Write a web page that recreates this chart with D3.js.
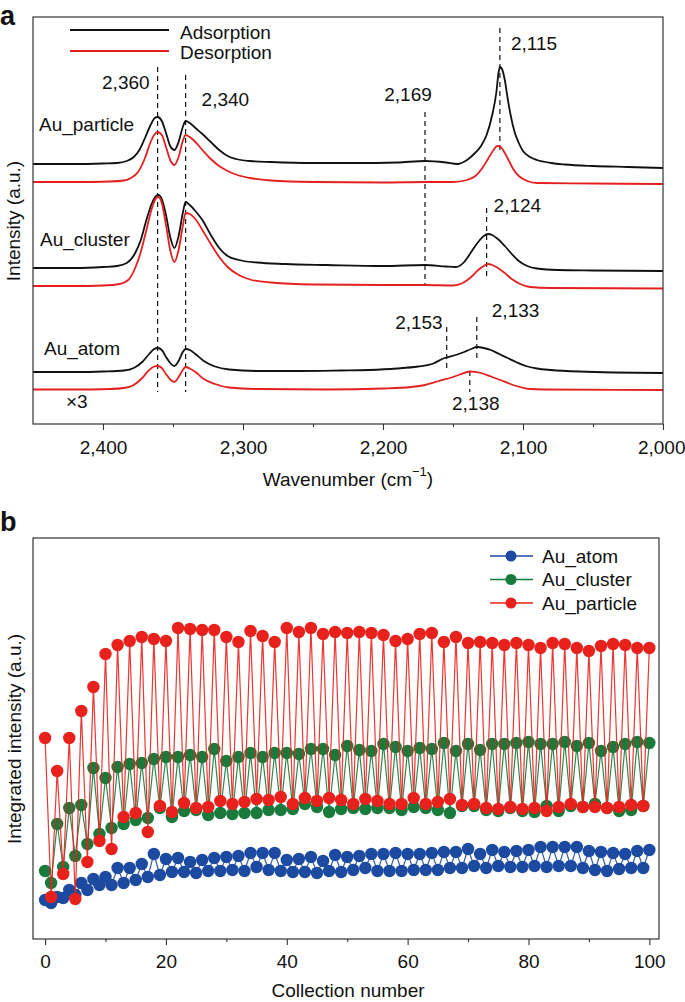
<!DOCTYPE html>
<html><head><meta charset="utf-8">
<script src="https://cdn.jsdelivr.net/npm/d3@7"></script>
<style>
body{margin:0;background:#fff}
text{font-family:"Liberation Sans",Arial,Helvetica,sans-serif;fill:#111}
</style>
</head><body>
<svg id="c" width="685" height="1002"></svg>
<script>
// ---------------- DATA ----------------
// Panel a: IR spectra [wavenumber (cm-1), intensity (a.u., offset)]
const particleAds = [[2450,260],[2420,260],[2400,260.5],[2390,261],[2383,263],[2378,267],[2374,274],[2370,286],[2366,299],[2363,306],[2361,307],[2358,303],[2355,291],[2352,278],[2349,274],[2346,282],[2343,297],[2341,303],[2338,301],[2334,296],[2329,290],[2323,282],[2317,274],[2311,268],[2305,265],[2295,263],[2280,262],[2250,261],[2220,261],[2190,261.5],[2170,263],[2155,261.5],[2147,260],[2140,264],[2135,270],[2130,278],[2126,289],[2122,309],[2119,332],[2117.5,351],[2116.5,357],[2115,355],[2113,344],[2111,326],[2109,310],[2106,292],[2103,281],[2100,273],[2095,267],[2090,264],[2080,261],[2070,259.5],[2050,258],[2025,257],[2000,256]];
const particleDes = [[2450,242],[2420,242],[2395,242.5],[2385,243.5],[2380,246],[2375,252],[2370,266],[2366,282],[2363,290],[2361,292],[2358,289],[2355,277],[2352,264],[2349,259],[2346,267],[2343,283],[2341,289],[2338,287],[2334,282],[2329,274],[2323,265],[2317,258],[2311,253],[2303,248.5],[2295,246],[2280,243.5],[2250,242],[2200,241.5],[2170,242],[2150,242],[2140,244],[2134,248],[2129,256],[2125,265],[2121,274],[2118.5,278],[2116,277],[2113,271],[2110,263],[2107,255],[2103,248],[2097,243],[2090,241],[2050,240.5],[2000,240]];
const clusterAds = [[2450,156],[2420,156],[2400,157],[2390,158],[2383,161],[2377,171],[2373,184],[2369,204],[2365,221],[2362,228],[2360.5,229],[2358,225],[2355,209],[2352,187],[2349,176],[2346,188],[2343,211],[2341,222],[2338,219],[2334,213],[2329,204],[2323,189],[2317,176],[2311,168],[2303,164],[2290,161.5],[2270,160],[2240,159],[2200,158],[2170,159],[2155,157.5],[2148,157],[2142,162],[2137,172],[2132,182],[2128,188],[2125,190],[2122,189],[2118,185],[2113,178],[2108,170],[2103,163],[2097,158],[2090,155.5],[2075,154],[2050,153.5],[2000,153]];
const clusterDes = [[2450,138],[2420,138],[2400,138.5],[2388,140],[2382,144],[2377,156],[2373,172],[2369,194],[2365,216],[2362,226],[2360.5,227],[2358,221],[2355,199],[2352,174],[2349,162],[2346,174],[2343,198],[2341,211],[2338,210],[2334,205],[2329,194],[2323,180],[2317,167],[2311,157],[2303,149],[2295,144.5],[2280,141.5],[2250,139.5],[2200,139],[2170,139],[2150,138.5],[2143,141],[2137,147],[2132,154],[2128,158],[2125,160],[2122,159],[2118,156],[2113,151],[2108,145],[2102,140],[2095,137],[2080,136],[2000,135.5]];
const atomAds = [[2450,52],[2420,52],[2400,52.5],[2385,53.5],[2378,56],[2372,62],[2367,70],[2363.5,75],[2361,76],[2358,74],[2355,67],[2352,61],[2349,58],[2346,63],[2343,72],[2341,75],[2338,74],[2334,70],[2328,63],[2320,57.5],[2310,54.5],[2290,53],[2260,53],[2230,53.5],[2210,54],[2190,55.5],[2175,57.5],[2165,60],[2156,66],[2148,69],[2142,72],[2137,75],[2133,77],[2128,76],[2123,74],[2117,70],[2111,66],[2105,62],[2098,58],[2090,55.5],[2080,54],[2060,52.5],[2000,51]];
const atomDes = [[2450,34.5],[2420,34.5],[2395,35],[2385,36],[2378,39],[2372,46],[2367,54],[2363.5,57.5],[2361,58],[2358,56],[2355,50],[2352,44.5],[2349,42],[2346,47],[2343,54],[2341,57],[2338,55.5],[2334,52],[2328,45],[2320,40],[2310,36.5],[2290,35],[2240,34.5],[2200,35.5],[2180,37],[2170,39],[2160,43],[2150,47],[2145,49.5],[2138,52.5],[2130,51],[2122,47],[2116,44],[2110,40.5],[2102,37],[2095,35],[2085,34.5],[2000,34]];

// Panel a: peak marker lines
const peakLabels    = ["2,360","2,340","2,169","2,115","2,124","2,153","2,133","2,138"];
const peakWavenum   = [2361, 2341, 2170, 2116.5, 2126, 2154.5, 2133, 2138];
const peakTop       = [357, 349, 312, 396, 216, 97, 107, 53];
const peakBottom    = [32, 32, 139, 272, 147, 55, 66, 32];

const wavenumberMajor = [2400, 2300, 2200, 2100, 2000];
const wavenumberMinor = [2350, 2250, 2150, 2050];
const spectraLegend = ["Adsorption", "Desorption"];
const sampleNames = ["Au_particle", "Au_cluster", "Au_atom"];

// Panel b: integrated intensity vs collection number (0..100)
const collection = d3.range(0, 101);
const auAtom = [39,36,42,41,49,44,56,49,60,54,62,54,71,56,71,59,75,62,85,64,80,67,81,67,77,66,79,68,81,68,82,69,83,68,86,72,86,69,86,68,79,67,80,67,82,66,78,68,84,67,82,69,83,71,85,68,85,68,86,68,85,69,85,69,86,69,87,71,87,71,90,73,85,71,89,73,87,72,88,72,89,73,92,72,92,73,92,73,92,71,88,69,87,68,86,70,85,71,88,71,89];
const auCluster = [68,56,115,72,131,83,134,95,171,105,161,111,172,115,175,119,176,121,180,131,182,122,182,128,184,129,182,124,190,126,178,125,182,126,186,126,182,129,186,129,186,130,185,135,190,132,190,127,184,130,193,131,189,130,188,131,195,131,192,129,188,132,191,131,190,129,196,126,188,133,195,133,189,129,195,128,195,131,196,128,197,127,195,133,195,128,197,133,193,132,196,135,188,131,192,128,195,129,197,133,196];
const auParticle = [201,42,168,65,201,40,228,77,252,98,285,90,294,122,298,126,302,107,300,133,298,127,311,136,310,131,309,132,309,138,302,135,297,137,308,140,303,139,297,142,311,135,307,141,311,138,305,141,307,139,306,135,307,140,306,138,304,135,298,135,300,141,305,135,306,137,297,140,302,134,296,135,297,131,296,130,294,132,296,130,294,131,291,128,296,132,295,135,291,132,288,132,293,131,295,132,294,134,291,133,291];
const seriesNames = ["Au_atom", "Au_cluster", "Au_particle"];
const collectionMajor = [0, 20, 40, 60, 80, 100];
const collectionMinor = [10, 30, 50, 70, 90];

// ---------------- DRAW ----------------
const svg = d3.select("#c");
const FS = 19;
const RED = "#e41f1f", BLACK = "#111";
const dark = "#333";

// ===== Panel a =====
const xa = d3.scaleLinear().domain([2450, 2000]).range([33, 663]);
const ya = d3.scaleLinear().domain([0, 407]).range([424, 17]);

const gA = svg.append("g");
const axA = gA.append("g").attr("transform", "translate(0,424)")
  .call(d3.axisBottom(xa).tickValues(wavenumberMajor).tickSize(6).tickPadding(11).tickFormat(d3.format(",")));
const axAm = gA.append("g").attr("transform", "translate(0,424)")
  .call(d3.axisBottom(xa).tickValues(wavenumberMinor).tickSize(3).tickFormat(""));
[axA, axAm].forEach(a => {
  a.select(".domain").remove();
  a.selectAll("line").attr("stroke", dark).attr("stroke-width", 1.1);
  a.selectAll("text").attr("font-size", FS).attr("fill", "#111")
   .style("font-family", '"Liberation Sans",Arial,sans-serif');
});
// keep the last label inside the page, as in the reference
axA.selectAll(".tick text").filter(d => d === 2000).attr("text-anchor", "end").attr("x", 22);

// peak lines
peakLabels.forEach((lab, i) => {
  gA.append("line")
    .attr("x1", xa(peakWavenum[i])).attr("x2", xa(peakWavenum[i]))
    .attr("y1", ya(peakTop[i])).attr("y2", ya(peakBottom[i]))
    .attr("stroke", "#111").attr("stroke-width", 1.2).attr("stroke-dasharray", "5,4");
});

// spectra
const line = d3.line().x(d => xa(d[0])).y(d => ya(d[1])).curve(d3.curveMonotoneX);
const spectra = [
  [particleAds, BLACK], [particleDes, RED],
  [clusterAds, BLACK], [clusterDes, RED],
  [atomAds, BLACK], [atomDes, RED]
];
spectra.forEach(([d, c]) => {
  gA.append("path").datum(d).attr("d", line)
    .attr("fill", "none").attr("stroke", c).attr("stroke-width", 1.8).attr("stroke-linejoin", "round");
});

// peak labels layout: [dx, dy, anchor, fromBottom]
const labLayout = [
  [-8, 15, "end", false], [16, 24, "start", false], [-17, -18, "middle", false],
  [11, 15, "start", false], [7, -3, "start", false], [-4, -5, "end", false],
  [15, -7, "start", false], [6, 11, "middle", true]
];
peakLabels.forEach((lab, i) => {
  const L = labLayout[i];
  const yy = L[3] ? ya(peakBottom[i]) : ya(peakTop[i]);
  gA.append("text").attr("x", xa(peakWavenum[i]) + L[0]).attr("y", yy + L[1])
    .attr("dy", "0.35em").attr("text-anchor", L[2]).attr("font-size", FS).text(lab);
});

// sample names
const sampleLayout = [[39, 124], [40, 239], [44, 348]];
sampleNames.forEach((s, i) => {
  gA.append("text").attr("x", sampleLayout[i][0]).attr("y", sampleLayout[i][1])
    .attr("dy", "0.35em").attr("font-size", FS).text(s);
});
gA.append("text").attr("x", 66).attr("y", 401).attr("dy", "0.35em").attr("font-size", FS).text("×3");

// legend
[[BLACK, 30, 32], [RED, 51, 52]].forEach((l, i) => {
  gA.append("line").attr("x1", 70).attr("x2", 169).attr("y1", l[1]).attr("y2", l[1])
    .attr("stroke", l[0]).attr("stroke-width", 1.8);
  gA.append("text").attr("x", 180).attr("y", l[2]).attr("dy", "0.35em").attr("font-size", FS).text(spectraLegend[i]);
});

// frame
gA.append("rect").attr("x", 33).attr("y", 17).attr("width", 630).attr("height", 407)
  .attr("fill", "none").attr("stroke", dark).attr("stroke-width", 1.2);

// titles
const tA = gA.append("text").attr("x", 348).attr("y", 479).attr("dy", "0.35em")
  .attr("text-anchor", "middle").attr("font-size", FS);
tA.append("tspan").text("Wavenumber (cm");
tA.append("tspan").attr("font-size", 13).attr("dy", "-0.75em").text("−1");
tA.append("tspan").attr("dy", "0.5em").text(")");
gA.append("text").attr("transform", "translate(13,221) rotate(-90)").attr("dy", "0.35em")
  .attr("text-anchor", "middle").attr("font-size", FS).text("Intensity (a.u.)");
svg.append("text").attr("x", 0).attr("y", 25).attr("font-size", 27).attr("font-weight", "bold").text("a");

// ===== Panel b =====
const xb = d3.scaleLinear().domain([-2, 101.6]).range([33, 659]);
const yb = d3.scaleLinear().domain([0, 401]).range([939, 538]);
const gB = svg.append("g");

const axB = gB.append("g").attr("transform", "translate(0,939)")
  .call(d3.axisBottom(xb).tickValues(collectionMajor).tickSize(6).tickPadding(10));
const axBm = gB.append("g").attr("transform", "translate(0,939)")
  .call(d3.axisBottom(xb).tickValues(collectionMinor).tickSize(3).tickFormat(""));
[axB, axBm].forEach(a => {
  a.select(".domain").remove();
  a.selectAll("line").attr("stroke", dark).attr("stroke-width", 1.1);
  a.selectAll("text").attr("font-size", FS).attr("fill", "#111")
   .style("font-family", '"Liberation Sans",Arial,sans-serif');
});

const colors = ["#1c4aa0", "#1a7a3c", "#e8211c"];
const series = [auAtom, auCluster, auParticle];
const lb = d3.line().x((d, i) => xb(collection[i])).y(d => yb(d));
series.forEach((s, k) => {
  const g = gB.append("g");
  g.append("path").datum(s).attr("d", lb).attr("fill", "none")
    .attr("stroke", colors[k]).attr("stroke-width", 1.2).attr("stroke-opacity", 0.9);
  g.selectAll("circle").data(s).join("circle")
    .attr("cx", (d, i) => xb(collection[i])).attr("cy", d => yb(d)).attr("r", 6.2)
    .attr("fill", colors[k]);
});

// legend
seriesNames.forEach((n, i) => {
  const yy = 556 + i * 23.5;
  gB.append("line").attr("x1", 490).attr("x2", 533).attr("y1", yy).attr("y2", yy)
    .attr("stroke", colors[i]).attr("stroke-width", 1.4);
  gB.append("circle").attr("cx", 511).attr("cy", yy).attr("r", 5.5).attr("fill", colors[i]);
  gB.append("text").attr("x", 542).attr("y", yy).attr("dy", "0.35em").attr("font-size", FS).text(n);
});

gB.append("rect").attr("x", 33).attr("y", 538).attr("width", 626).attr("height", 401)
  .attr("fill", "none").attr("stroke", dark).attr("stroke-width", 1.2);

gB.append("text").attr("x", 348).attr("y", 990).attr("dy", "0.35em")
  .attr("text-anchor", "middle").attr("font-size", FS).text("Collection number");
gB.append("text").attr("transform", "translate(14,739) rotate(-90)").attr("dy", "0.35em")
  .attr("text-anchor", "middle").attr("font-size", FS).text("Integrated intensity (a.u.)");
svg.append("text").attr("x", 0).attr("y", 531).attr("font-size", 27).attr("font-weight", "bold").text("b");
</script>
</body></html>
